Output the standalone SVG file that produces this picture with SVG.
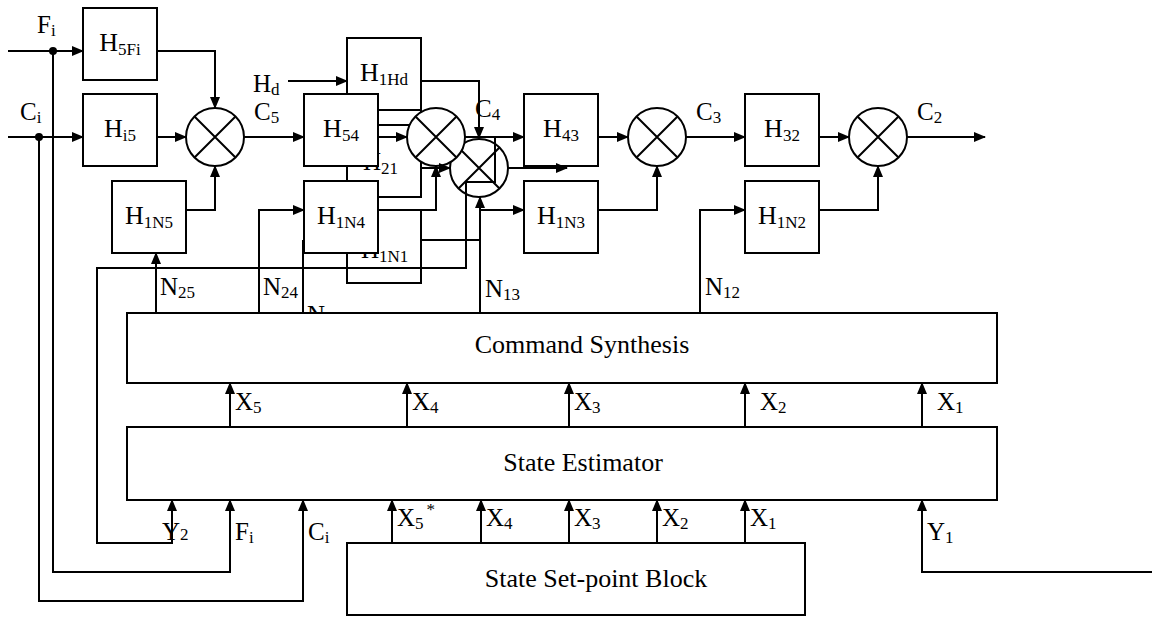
<svg xmlns="http://www.w3.org/2000/svg" width="1152" height="619" viewBox="0 0 1152 619" font-family="'Liberation Serif', 'Times New Roman', serif">
<style>
.box{fill:#fff;stroke:#000;stroke-width:2}
.sum{fill:#fff;stroke:#000;stroke-width:2}
.x{stroke:#000;stroke-width:2;fill:none}
.c{fill:none;stroke:#000;stroke-width:2}
.a{marker-end:url(#arr)}
text{font-family:'Liberation Serif','Times New Roman',serif;fill:#000}
.t{font-size:26px;text-anchor:middle}
.l{font-size:25px}
.s{font-size:17px}
.big{font-size:26px;text-anchor:middle}
</style>
<defs>
<marker id="arr" markerUnits="userSpaceOnUse" markerWidth="12" markerHeight="10" refX="11" refY="5" orient="auto">
<path d="M0,0 L12,5 L0,10 Z" fill="#000"/>
</marker>
</defs>
<rect width="1152" height="619" fill="#fff"/>

<g id="H21">
<text class="l" x="363" y="170">H<tspan class="s" dy="4">21</tspan></text>
<rect class="c" x="347" y="110" width="74" height="87"/>
</g>
<g id="H1N1">
<rect class="box" x="347" y="210" width="74" height="73"/>
<text class="l" x="361" y="258">H<tspan class="s" dy="4">1N1</tspan></text>
</g>
<text id="hidden-N" class="l" x="307" y="323">N</text>

<g id="H5Fi"><rect class="box" x="83" y="8" width="74" height="72"/><text class="t" x="120" y="51">H<tspan class="s" dy="4">5Fi</tspan></text></g>
<g id="Hi5"><rect class="box" x="83" y="94" width="74" height="72"/><text class="t" x="120" y="137">H<tspan class="s" dy="4">i5</tspan></text></g>
<g id="H1N5"><rect class="box" x="112" y="181" width="74" height="72"/><text class="t" x="149" y="224">H<tspan class="s" dy="4">1N5</tspan></text></g>
<g id="H1Hd"><rect class="box" x="347" y="38" width="74" height="72"/><text class="t" x="384" y="81">H<tspan class="s" dy="4">1Hd</tspan></text></g>
<g id="H54"><rect class="box" x="304" y="94" width="74" height="72"/><text class="t" x="341" y="137">H<tspan class="s" dy="4">54</tspan></text></g>
<g id="H1N4"><rect class="box" x="304" y="181" width="74" height="72"/><text class="t" x="341" y="224">H<tspan class="s" dy="4">1N4</tspan></text></g>
<g id="H43"><rect class="box" x="524" y="94" width="74" height="72"/><text class="t" x="561" y="137">H<tspan class="s" dy="4">43</tspan></text></g>
<g id="H1N3"><rect class="box" x="524" y="181" width="74" height="72"/><text class="t" x="561" y="224">H<tspan class="s" dy="4">1N3</tspan></text></g>
<g id="H32"><rect class="box" x="745" y="94" width="74" height="72"/><text class="t" x="782" y="137">H<tspan class="s" dy="4">32</tspan></text></g>
<g id="H1N2"><rect class="box" x="745" y="181" width="74" height="72"/><text class="t" x="782" y="224">H<tspan class="s" dy="4">1N2</tspan></text></g>

<g id="sum1"><circle class="sum" cx="215" cy="137" r="29"/><path class="x" d="M194.5,116.5 L235.5,157.5 M235.5,116.5 L194.5,157.5"/></g>
<g id="sum2"><circle class="sum" cx="479" cy="168" r="29"/><path class="x" d="M458.5,147.5 L499.5,188.5 M499.5,147.5 L458.5,188.5"/></g>
<g id="sum1b"><circle class="sum" cx="436" cy="137" r="29"/><path class="x" d="M415.5,116.5 L456.5,157.5 M456.5,116.5 L415.5,157.5"/></g>
<g id="sum3"><circle class="sum" cx="657" cy="137" r="29"/><path class="x" d="M636.5,116.5 L677.5,157.5 M677.5,116.5 L636.5,157.5"/></g>
<g id="sum4"><circle class="sum" cx="878" cy="137" r="29"/><path class="x" d="M857.5,116.5 L898.5,157.5 M898.5,116.5 L857.5,157.5"/></g>

<g id="CommandSynthesis"><rect class="box" x="127" y="313" width="870" height="70"/><text class="big" x="582" y="353">Command Synthesis</text></g>
<g id="StateEstimator"><rect class="box" x="127" y="427" width="870" height="73"/><text class="big" x="583" y="471">State Estimator</text></g>
<g id="SetPoint"><rect class="box" x="347" y="543" width="458" height="72"/><text class="big" x="596" y="587">State Set-point Block</text></g>

<g id="connectors">
<path class="c a" d="M8,51 H83"/>
<path class="c a" d="M8,137 H83"/>
<path class="c a" d="M157,51 H215 V108"/>
<path class="c a" d="M157,137 H186"/>
<path class="c a" d="M186,210 H215 V166"/>
<path class="c a" d="M244,137 H304"/>
<path class="c a" d="M288,81 H347"/>
<path class="c a" d="M421,81 H479 V138"/>
<path class="c a" d="M378,137 H407"/>
<path class="c" d="M378,125 H410"/>
<path class="c a" d="M378,210 H436 V166"/>
<path class="c a" d="M421,168 H450"/>
<path class="c a" d="M465,137 H524"/>
<path class="c a" d="M508,168 H567"/>
<path class="c" d="M466,182 H495 V137"/>
<path class="c" d="M421,240 H480"/>
<path class="c a" d="M480,313 V197"/>
<path class="c a" d="M480,210 H524"/>
<path class="c a" d="M598,137 H628"/>
<path class="c a" d="M598,210 H657 V166"/>
<path class="c a" d="M686,137 H745"/>
<path class="c a" d="M819,137 H849"/>
<path class="c a" d="M819,210 H878 V166"/>
<path class="c a" d="M907,137 H985"/>
<path class="c a" d="M700,313 V210 H745"/>
<path class="c a" d="M259,313 V210 H304"/>
<path class="c a" d="M156,313 V253"/>
<path class="c" d="M303,313 V240"/>
<path class="c a" d="M466,182 V268 H97 V543 H172 V500"/>
<path class="c a" d="M53,51 V572 H230 V500"/>
<path class="c a" d="M39,137 V601 H303 V500"/>
<path class="c a" d="M230,427 V383"/>
<path class="c a" d="M407,427 V383"/>
<path class="c a" d="M569,427 V383"/>
<path class="c a" d="M745,427 V383"/>
<path class="c a" d="M922,427 V383"/>
<path class="c a" d="M392,543 V500"/>
<path class="c a" d="M481,543 V500"/>
<path class="c a" d="M569,543 V500"/>
<path class="c a" d="M657,543 V500"/>
<path class="c a" d="M745,543 V500"/>
<path class="c a" d="M1152,572 H922 V500"/>
<circle cx="53" cy="51" r="4" fill="#000"/>
<circle cx="39" cy="137" r="4" fill="#000"/>
</g>

<g id="labels">
<text class="l" x="37" y="33">F<tspan class="s" dy="3">i</tspan></text>
<text class="l" x="20" y="120">C<tspan class="s" dy="3">i</tspan></text>
<text class="l" x="253" y="92">H<tspan class="s" dy="3">d</tspan></text>
<text class="l" x="254" y="120">C<tspan class="s" dy="3">5</tspan></text>
<text class="l" x="475" y="117">C<tspan class="s" dy="3">4</tspan></text>
<text class="l" x="696" y="120">C<tspan class="s" dy="3">3</tspan></text>
<text class="l" x="917" y="120">C<tspan class="s" dy="3">2</tspan></text>
<text class="l" x="160" y="295">N<tspan class="s" dy="3">25</tspan></text>
<text class="l" x="263" y="295">N<tspan class="s" dy="3">24</tspan></text>
<text class="l" x="485" y="297">N<tspan class="s" dy="3">13</tspan></text>
<text class="l" x="705" y="295">N<tspan class="s" dy="3">12</tspan></text>
<text class="l" x="235" y="410">X<tspan class="s" dy="3">5</tspan></text>
<text class="l" x="412" y="410">X<tspan class="s" dy="3">4</tspan></text>
<text class="l" x="574" y="410">X<tspan class="s" dy="3">3</tspan></text>
<text class="l" x="760" y="410">X<tspan class="s" dy="3">2</tspan></text>
<text class="l" x="937" y="410">X<tspan class="s" dy="3">1</tspan></text>
<text class="l" x="397" y="526">X<tspan class="s" dy="3">5</tspan><tspan class="s" dx="3" dy="-14">*</tspan></text>
<text class="l" x="486" y="526">X<tspan class="s" dy="3">4</tspan></text>
<text class="l" x="574" y="526">X<tspan class="s" dy="3">3</tspan></text>
<text class="l" x="662" y="526">X<tspan class="s" dy="3">2</tspan></text>
<text class="l" x="750" y="526">X<tspan class="s" dy="3">1</tspan></text>
<text class="l" x="162" y="540">Y<tspan class="s">2</tspan></text>
<text class="l" x="235" y="540">F<tspan class="s" dy="3">i</tspan></text>
<text class="l" x="308" y="540">C<tspan class="s" dy="3">i</tspan></text>
<text class="l" x="927" y="540">Y<tspan class="s" dy="3">1</tspan></text>
</g>
</svg>
